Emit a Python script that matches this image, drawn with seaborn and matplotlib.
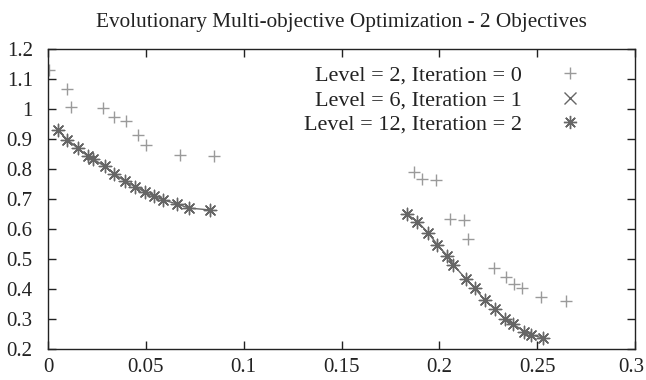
import matplotlib
matplotlib.use("Agg")
import matplotlib.pyplot as plt
import matplotlib.transforms as mtransforms
from matplotlib.lines import Line2D
import seaborn as sns
import pandas as pd

# Objective values of the population after each refinement step
level2_x = [0.0005, 0.0096, 0.0116, 0.0280, 0.0337, 0.0399, 0.0460, 0.0501, 0.0675, 0.0849,
            0.1868, 0.1910, 0.1984, 0.2055, 0.2127, 0.2146, 0.2280, 0.2340, 0.2379, 0.2422,
            0.2519, 0.2648]
level2_y = [1.129, 1.067, 1.007, 1.003, 0.973, 0.959, 0.914, 0.880, 0.848, 0.844,
            0.792, 0.768, 0.764, 0.634, 0.629, 0.567, 0.472, 0.440, 0.418, 0.403,
            0.373, 0.362]

front_x = [0.0050, 0.0099, 0.0151, 0.0202, 0.0232, 0.0291, 0.0339, 0.0395, 0.0445, 0.0496,
           0.0543, 0.0586, 0.0658, 0.0722, 0.0828,
           0.1834, 0.1888, 0.1944, 0.1990, 0.2041, 0.2072, 0.2137, 0.2180, 0.2231, 0.2285,
           0.2336, 0.2376, 0.2434, 0.2468, 0.2532]
front_y = [0.929, 0.898, 0.870, 0.844, 0.833, 0.809, 0.784, 0.759, 0.742, 0.723,
           0.709, 0.698, 0.684, 0.670, 0.664,
           0.650, 0.625, 0.587, 0.548, 0.511, 0.481, 0.433, 0.404, 0.364, 0.333,
           0.301, 0.284, 0.259, 0.248, 0.237]
front_part = [1] * 15 + [2] * 15

x_ticks = [0, 0.05, 0.1, 0.15, 0.2, 0.25, 0.3]
x_ticklabels = ["0", "0.05", "0.1", "0.15", "0.2", "0.25", "0.3"]
y_ticks = [0.2, 0.3, 0.4, 0.5, 0.6, 0.7, 0.8, 0.9, 1.0, 1.1, 1.2]
y_ticklabels = ["0.2", "0.3", "0.4", "0.5", "0.6", "0.7", "0.8", "0.9", "1", "1.1", "1.2"]

labels = ["Level = 2, Iteration = 0", "Level = 6, Iteration = 1", "Level = 12, Iteration = 2"]

light = "#9a9a9a"
dark = "#666666"
ink = "#222222"
asterisk = (8, 2, 0)

sns.set_theme(style="ticks")
plt.rcParams["font.family"] = ["Liberation Serif", "DejaVu Serif"]

df2 = pd.DataFrame({"x": level2_x, "y": level2_y})
dff = pd.DataFrame({"x": front_x, "y": front_y, "part": front_part})

fig = plt.figure(figsize=(6.46, 3.80), dpi=100)
ax = fig.add_axes([0.0743, 0.081, 0.9087, 0.790])

sns.scatterplot(data=df2, x="x", y="y", ax=ax, marker="+", s=64, color=light,
                linewidth=1.0, legend=False)
sns.lineplot(data=dff, x="x", y="y", units="part", estimator=None, sort=False, ax=ax,
             color=dark, linewidth=1.0, legend=False)
sns.scatterplot(data=dff, x="x", y="y", ax=ax, marker="x", s=50, color=dark,
                linewidth=1.0, legend=False)
sns.scatterplot(data=dff, x="x", y="y", ax=ax, marker=asterisk, s=80, color=dark,
                linewidth=1.0, legend=False)

ax.set_xlim(0, 0.3)
ax.set_ylim(0.2, 1.2)
ax.set_xticks(x_ticks)
ax.set_xticklabels(x_ticklabels)
ax.set_yticks(y_ticks)
ax.set_yticklabels(y_ticklabels)
ax.set_xlabel("")
ax.set_ylabel("")
ax.tick_params(direction="in", length=6, width=1, top=True, right=True,
               labelsize=15, colors=ink)
ax.tick_params(axis="x", pad=6)
ax.tick_params(axis="y", pad=11)
for s in ax.spines.values():
    s.set_linewidth(1.0)
    s.set_color(ink)
    s.set_visible(True)

# keep the last x tick label inside the canvas
last = ax.get_xticklabels()[-1]
last.set_transform(last.get_transform() +
                   mtransforms.ScaledTranslation(-3 / 72, 0, fig.dpi_scale_trans))

ax.set_title("Evolutionary Multi-objective Optimization - 2 Objectives",
             fontsize=15.3, pad=16, color=ink)

handles = [
    Line2D([], [], linestyle="none", marker="+", markersize=8.5, markeredgewidth=1.0, color=light),
    Line2D([], [], linestyle="none", marker="x", markersize=8.0, markeredgewidth=1.0, color=dark),
    Line2D([], [], linestyle="none", marker=asterisk, markersize=9.5, markeredgewidth=1.0, color=dark),
]
leg = ax.legend(handles, labels, loc="upper right", frameon=False, markerfirst=False,
                fontsize=16, handlelength=2.0, handletextpad=1.17, labelspacing=0.17,
                borderaxespad=0.0, bbox_to_anchor=(0.943, 0.975))
for t in leg.get_texts():
    t.set_ha("right")
    t.set_color(ink)
leg._legend_box.align = "right"

fig.savefig("out.png", dpi=100)
